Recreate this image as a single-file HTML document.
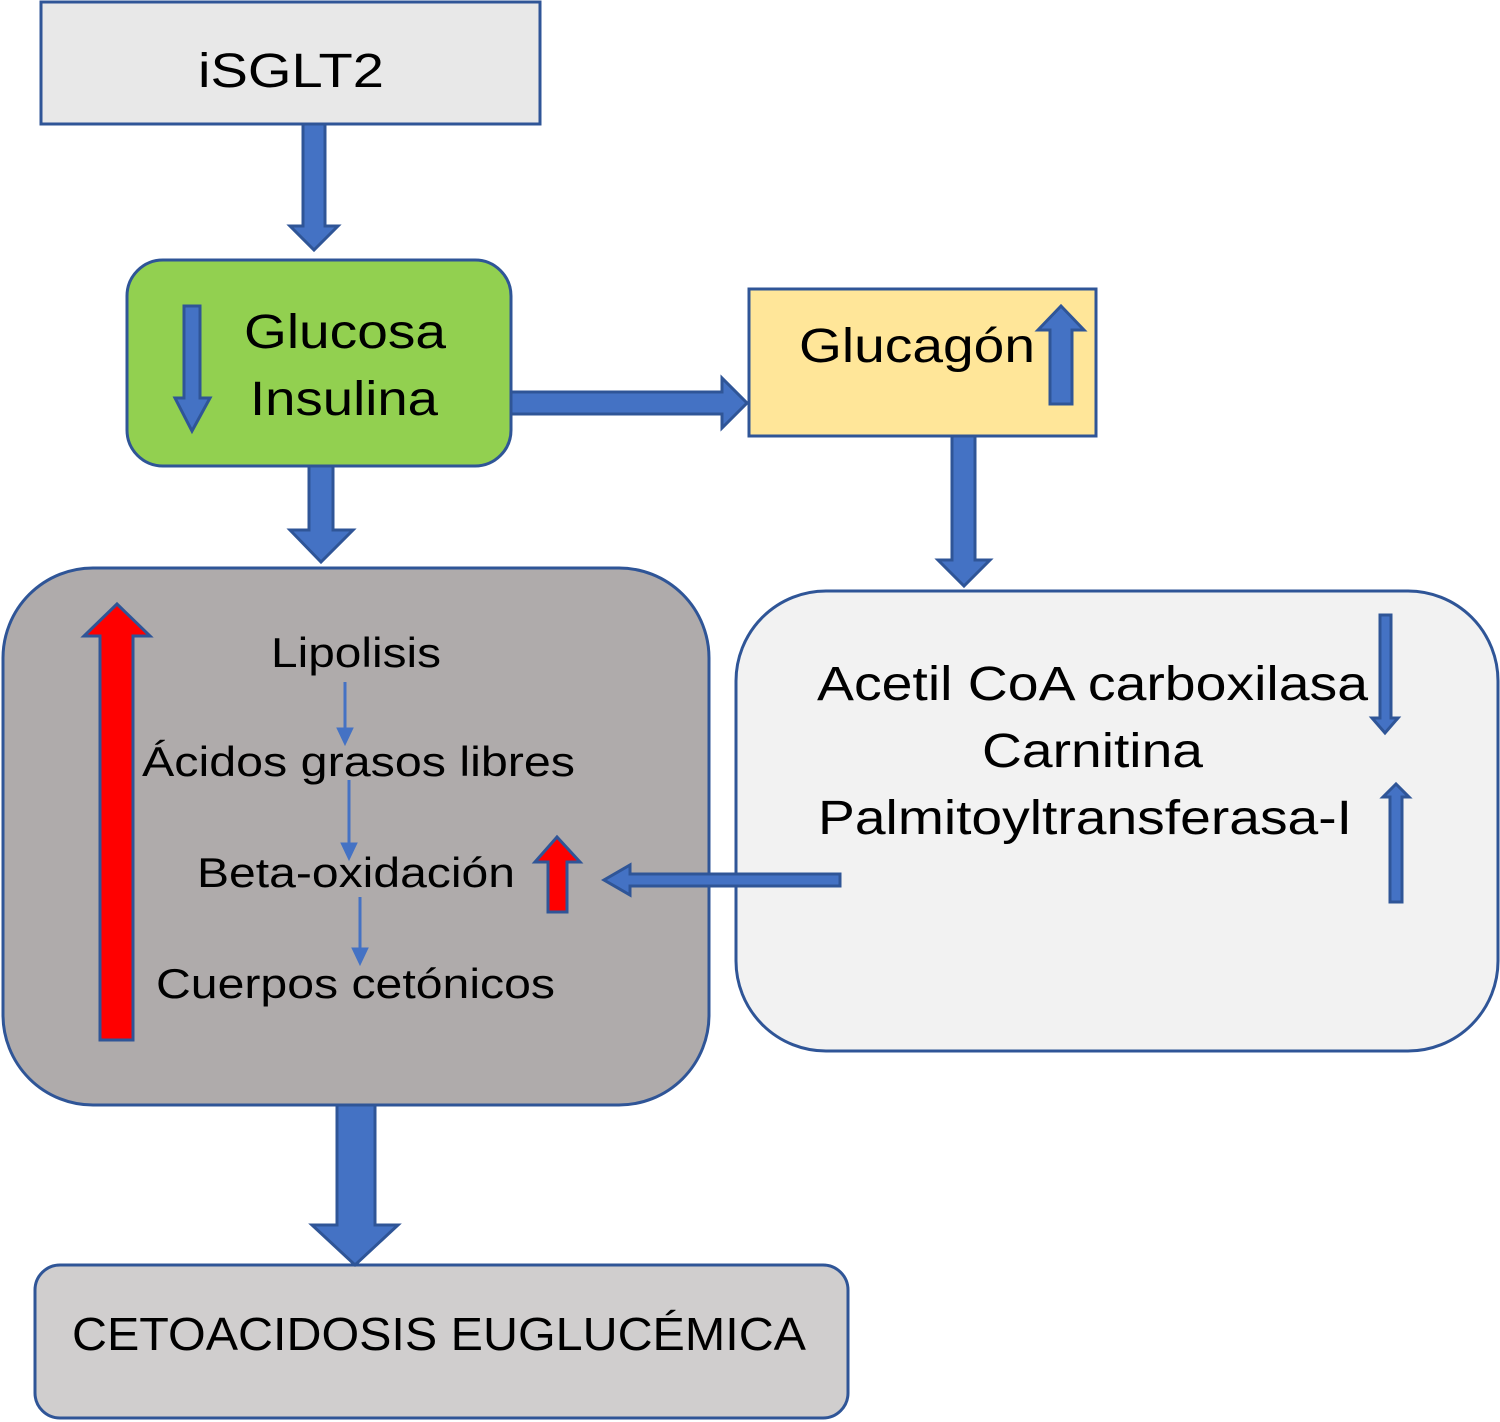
<!DOCTYPE html>
<html><head><meta charset="utf-8"><style>
html,body{margin:0;padding:0;background:#fff}
svg{display:block}
text{font-family:"Liberation Sans",Arial,sans-serif;fill:#000}
</style></head><body>
<svg width="1500" height="1422" viewBox="0 0 1500 1422" xmlns="http://www.w3.org/2000/svg">
<g stroke="#2f5597" stroke-width="3">
<!-- boxes -->
<rect x="41" y="2" width="499" height="122" fill="#e8e8e8"/>
<rect x="127" y="260" width="384" height="206" rx="36" fill="#92d050"/>
<rect x="749" y="289" width="347" height="147" fill="#ffe699"/>
<rect x="3" y="568" width="706" height="537" rx="90" fill="#afabab"/>
<rect x="736" y="591" width="762" height="460" rx="90" fill="#f2f2f2"/>
<rect x="35" y="1265" width="813" height="153" rx="25" fill="#d0cece"/>
</g>
<g fill="#4472c4" stroke="#2f5597" stroke-width="3" stroke-linejoin="miter">
<!-- iSGLT2 down -->
<polygon points="303,124 325,124 325,226 338,226 314,250 290,226 303,226"/>
<!-- green down -->
<polygon points="309,466 333,466 333,530 353,530 321,562 290,530 309,530"/>
<!-- right arrow -->
<polygon points="511,392 722,392 722,378 747,403 722,428 722,414 511,414"/>
<!-- glucagon down -->
<polygon points="952,436 975,436 975,560 990,560 964,586 938,560 952,560"/>
<!-- bottom big -->
<polygon points="337,1105 375,1105 375,1225 398,1225 355,1265 312,1225 337,1225"/>
<!-- glucose inner down -->
<polygon points="184,306 200,306 200,398 210,398 192,431 175,398 184,398"/>
<!-- glucagon up -->
<polygon points="1050,404 1072,404 1072,330 1084,330 1061,306 1038,330 1050,330"/>
<!-- left arrow -->
<polygon points="840,874 840,886 630,886 630,895 604,880 630,865 630,874"/>
<!-- right box arrows -->
<polygon points="1380,615 1391,615 1391,718 1398,718 1385,733 1372,718 1380,718"/>
<polygon points="1390,902 1402,902 1402,797 1409,797 1396,784 1383,797 1390,797"/>
</g>
<g fill="#ff0000" stroke="#2f5597" stroke-width="3">
<polygon points="100,1040 133,1040 133,636 150,636 117,604 84,636 100,636"/>
<polygon points="548,912 567,912 567,862 580,862 557,837 535,862 548,862"/>
</g>
<!-- small thin arrows -->
<g stroke="#4472c4" stroke-width="3" fill="#4472c4">
<line x1="345" y1="682" x2="345" y2="730"/><polygon points="337,728 353,728 345,745" stroke-width="1"/>
<line x1="349" y1="780" x2="349" y2="845"/><polygon points="341,843 357,843 349,860" stroke-width="1"/>
<line x1="360" y1="897" x2="360" y2="950"/><polygon points="352,948 368,948 360,965" stroke-width="1"/>
</g>
<!-- text -->
<text x="198" y="87" font-size="48" textLength="186" lengthAdjust="spacingAndGlyphs">iSGLT2</text>
<text x="244" y="348" font-size="48" textLength="202" lengthAdjust="spacingAndGlyphs">Glucosa</text>
<text x="250" y="415" font-size="48" textLength="188" lengthAdjust="spacingAndGlyphs">Insulina</text>
<text x="799" y="362" font-size="48" textLength="236" lengthAdjust="spacingAndGlyphs">Glucagón</text>
<text x="271" y="667" font-size="42" textLength="170" lengthAdjust="spacingAndGlyphs">Lipolisis</text>
<text x="142" y="776" font-size="42" textLength="433" lengthAdjust="spacingAndGlyphs">Ácidos grasos libres</text>
<text x="197" y="887" font-size="42" textLength="318" lengthAdjust="spacingAndGlyphs">Beta-oxidación</text>
<text x="156" y="998" font-size="42" textLength="399" lengthAdjust="spacingAndGlyphs">Cuerpos cetónicos</text>
<text x="817" y="700" font-size="48" textLength="551" lengthAdjust="spacingAndGlyphs">Acetil CoA carboxilasa</text>
<text x="982" y="767" font-size="48" textLength="221" lengthAdjust="spacingAndGlyphs">Carnitina</text>
<text x="818" y="834" font-size="48" textLength="534" lengthAdjust="spacingAndGlyphs">Palmitoyltransferasa-I</text>
<text x="72" y="1350" font-size="46" textLength="734" lengthAdjust="spacingAndGlyphs">CETOACIDOSIS EUGLUCÉMICA</text>
</svg>
</body></html>
